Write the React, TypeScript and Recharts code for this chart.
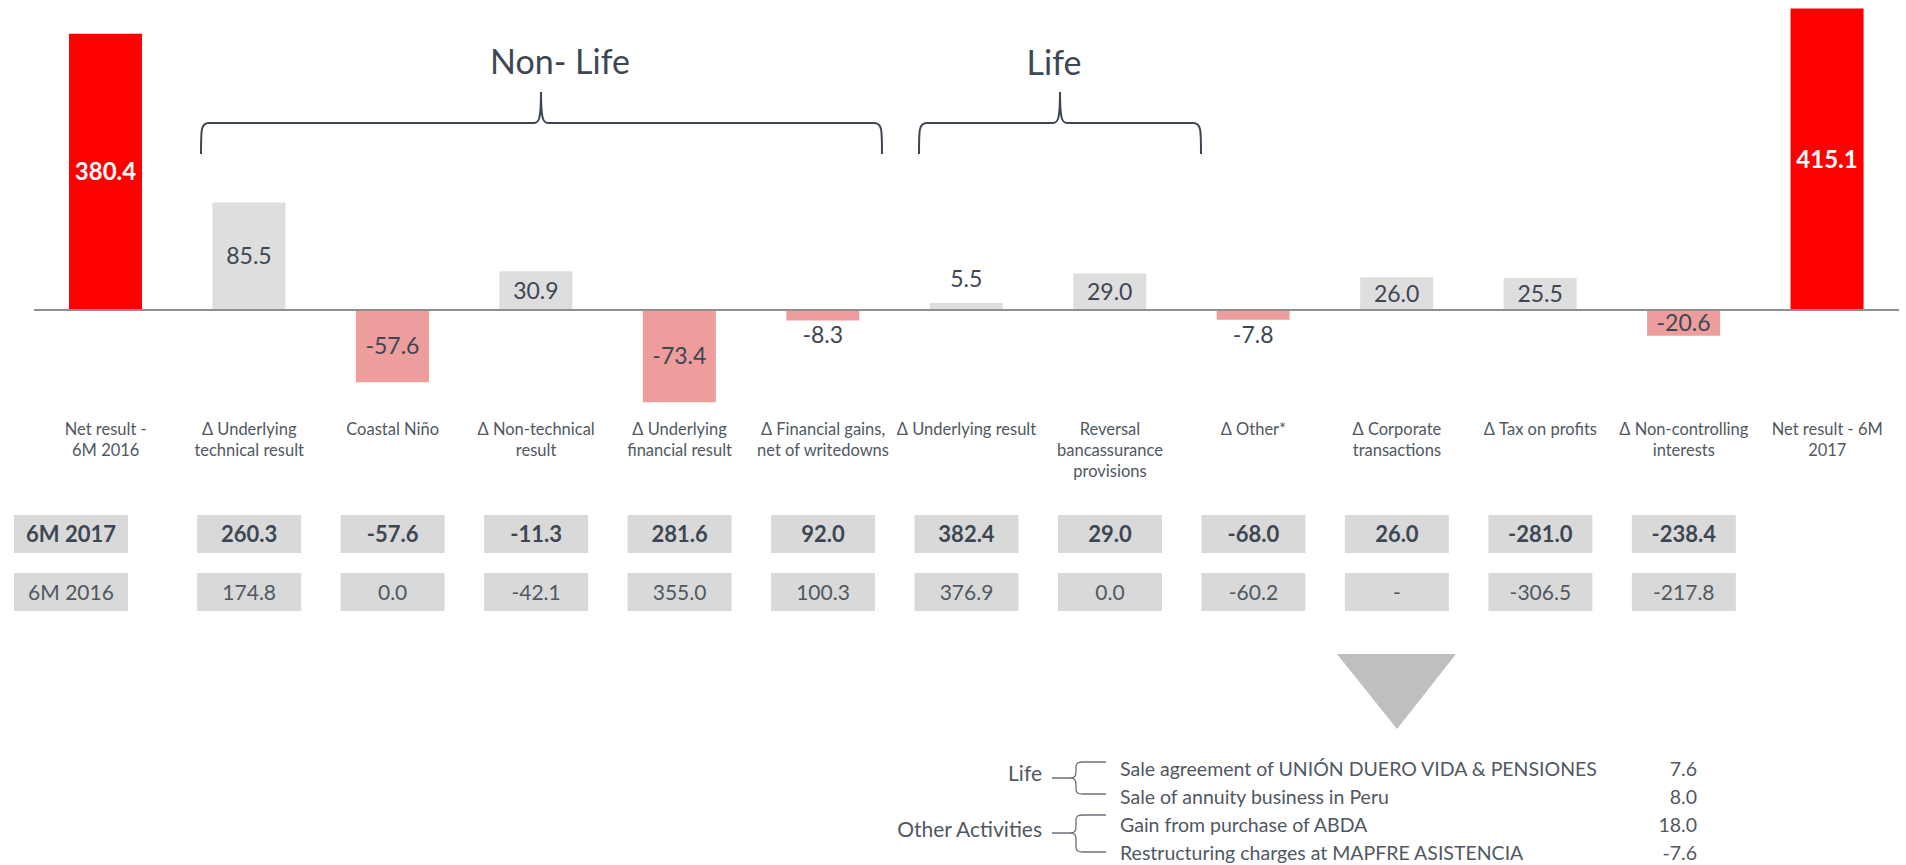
import { BarChart, Bar, XAxis, YAxis, Cell, LabelList, ReferenceLine } from 'recharts';

const FONT = "Lato, 'Open Sans', sans-serif";
const DARK = '#3d4753';
const MID = '#505862';

// categories (label lines) of the bridge
const categories = [
  ['Net result -', '6M 2016'],
  ['Δ Underlying', 'technical result'],
  ['Coastal Niño'],
  ['Δ Non-technical', 'result'],
  ['Δ Underlying', 'financial result'],
  ['Δ Financial gains,', 'net of writedowns'],
  ['Δ Underlying result'],
  ['Reversal', 'bancassurance', 'provisions'],
  ['Δ Other*'],
  ['Δ Corporate', 'transactions'],
  ['Δ Tax on profits'],
  ['Δ Non-controlling', 'interests'],
  ['Net result - 6M', '2017'],
];

// net result totals (red) and variations
const totals = [380.4, null, null, null, null, null, null, null, null, null, null, null, 415.1];
const deltas = [null, 85.5, -57.6, 30.9, -73.4, -8.3, 5.5, 29.0, -7.8, 26.0, 25.5, -20.6, null];

// table under the chart
const row2017 = ['6M 2017', '260.3', '-57.6', '-11.3', '281.6', '92.0', '382.4', '29.0', '-68.0', '26.0', '-281.0', '-238.4', ''];
const row2016 = ['6M 2016', '174.8', '0.0', '-42.1', '355.0', '100.3', '376.9', '0.0', '-60.2', '-', '-306.5', '-217.8', ''];

// breakdown of "Other"
const breakdownGroups = ['Life', 'Other Activities'];
const breakdownItems = [
  'Sale agreement of UNIÓN DUERO VIDA & PENSIONES',
  'Sale of annuity business in Peru',
  'Gain from purchase of ABDA',
  'Restructuring charges at MAPFRE ASISTENCIA',
];
const breakdownValues = ['7.6', '8.0', '18.0', '-7.6'];

const data = categories.map((lines, i) => ({
  key: lines.join(' '),
  total: totals[i],
  delta: deltas[i],
}));

function CategoryTick(props: any) {
  const { x, index } = props;
  const lines = categories[index] || [];
  const first = index === 0;
  const boxW = first ? 114 : 104;
  const boxX = first ? 14 : x - boxW / 2;
  const cx = boxX + boxW / 2;
  return (
    <g>
      {lines.map((l, i) => (
        <text key={i} x={x} y={435 + i * 21} textAnchor="middle" fontSize={16.5} fill={MID} fontFamily={FONT}>
          {l}
        </text>
      ))}
      {row2017[index] !== '' && (
        <g>
          <rect x={boxX} y={515} width={boxW} height={38} fill="#d9d9d9" />
          <text x={cx} y={542} textAnchor="middle" fontSize={22} fontWeight="bold" fill={DARK} fontFamily={FONT}>
            {row2017[index]}
          </text>
          <rect x={boxX} y={573} width={boxW} height={38} fill="#d9d9d9" />
          <text x={cx} y={600} textAnchor="middle" fontSize={21} fill={MID} fontFamily={FONT}>
            {row2016[index]}
          </text>
        </g>
      )}
    </g>
  );
}

function DeltaLabel(props: any) {
  const { x, y, width, height, value } = props;
  if (value == null) return null;
  const cx = x + width / 2;
  const top = Math.min(y, y + height);
  const bottom = Math.max(y, y + height);
  let ty = (top + bottom) / 2 + 8;
  if (bottom - top < 16) {
    ty = value > 0 ? top - 16 : bottom + 23;
  }
  return (
    <text x={cx} y={ty} textAnchor="middle" fontSize={23} fill={DARK} fontFamily={FONT}>
      {value.toFixed(1)}
    </text>
  );
}

function TopBrace({ x1, x2, xm }: { x1: number; x2: number; xm: number }) {
  const yl = 123;
  const yb = 154;
  const yt = 92;
  const d = `M${x1},${yb} C${x1},${yl + 6} ${x1},${yl} ${x1 + 8},${yl} L${xm - 7},${yl} C${xm - 2},${yl} ${xm},${yl - 4} ${xm},${yt} C${xm},${yl - 4} ${xm + 2},${yl} ${xm + 7},${yl} L${x2 - 8},${yl} C${x2},${yl} ${x2},${yl + 6} ${x2},${yb}`;
  return <path d={d} fill="none" stroke={DARK} strokeWidth={2} />;
}

function SideBrace({ tip, top, bot }: { tip: number; top: number; bot: number }) {
  const tx = 1052;
  const bx = 1076;
  const ex = 1106;
  const d = `M${tx},${tip} L${bx - 6},${tip} C${bx - 1},${tip} ${bx},${tip - 2} ${bx},${tip - 7} L${bx},${top + 5} C${bx},${top + 1} ${bx + 2},${top} ${bx + 7},${top} L${ex},${top} M${bx - 6},${tip} C${bx - 1},${tip} ${bx},${tip + 2} ${bx},${tip + 7} L${bx},${bot - 5} C${bx},${bot - 1} ${bx + 2},${bot} ${bx + 7},${bot} L${ex},${bot}`;
  return <path d={d} fill="none" stroke="#6b717a" strokeWidth={1.3} />;
}

export default function App() {
  const itemY = [776, 804, 832, 860];
  return (
    <div style={{ position: 'absolute', left: 0, top: 0, width: 1906, height: 865, background: '#fff', overflow: 'hidden' }}>
      <BarChart
        width={1906}
        height={865}
        data={data}
        margin={{ top: 8, right: 7, left: 34, bottom: 0 }}
        barGap={-73}
      >
        <XAxis
          dataKey="key"
          xAxisId={0}
          axisLine={false}
          tickLine={false}
          interval={0}
          height={455}
          tick={<CategoryTick />}
        />
        <YAxis yAxisId="total" hide type="number" domain={[-137.65, 415.69]} allowDataOverflow />
        <YAxis yAxisId="delta" hide type="number" domain={[-79.62, 240.45]} allowDataOverflow orientation="right" />
        <Bar dataKey="total" yAxisId="total" fill="#ff0000" barSize={73} isAnimationActive={false}>
          <LabelList dataKey="total" position="center" fill="#ffffff" fontSize={24} fontWeight="bold" fontFamily={FONT} formatter={(v: any) => (v == null ? '' : Number(v).toFixed(1))} />
        </Bar>
        <Bar dataKey="delta" yAxisId="delta" barSize={73} isAnimationActive={false}>
          {data.map((d, i) => (
            <Cell key={i} fill={d.delta != null && d.delta < 0 ? '#ee9d9d' : '#dedede'} />
          ))}
          <LabelList dataKey="delta" content={<DeltaLabel />} />
        </Bar>
        <ReferenceLine y={0} yAxisId="delta" stroke="#8f8f8f" strokeWidth={2} />
      </BarChart>

      <svg width={1906} height={865} style={{ position: 'absolute', left: 0, top: 0, pointerEvents: 'none' }}>
        <text x={560} y={74} textAnchor="middle" fontSize={34} fill={DARK} fontFamily={FONT}>Non- Life</text>
        <TopBrace x1={201} x2={882} xm={541} />
        <text x={1054} y={75} textAnchor="middle" fontSize={34} fill={DARK} fontFamily={FONT}>Life</text>
        <TopBrace x1={919} x2={1201} xm={1060} />

        <polygon points="1337,654 1456,654 1397,729" fill="#bfbfbf" />

        <text x={1042} y={781} textAnchor="end" fontSize={21} fill={MID} fontFamily={FONT}>{breakdownGroups[0]}</text>
        <SideBrace tip={778} top={762} bot={794} />
        <text x={1042} y={837} textAnchor="end" fontSize={21} fill={MID} fontFamily={FONT}>{breakdownGroups[1]}</text>
        <SideBrace tip={833} top={815} bot={852} />
        {breakdownItems.map((t, i) => (
          <g key={i}>
            <text x={1120} y={itemY[i]} fontSize={19.5} fill={MID} fontFamily={FONT}>{t}</text>
            <text x={1697} y={itemY[i]} textAnchor="end" fontSize={19.5} fill={MID} fontFamily={FONT}>{breakdownValues[i]}</text>
          </g>
        ))}
      </svg>
    </div>
  );
}
